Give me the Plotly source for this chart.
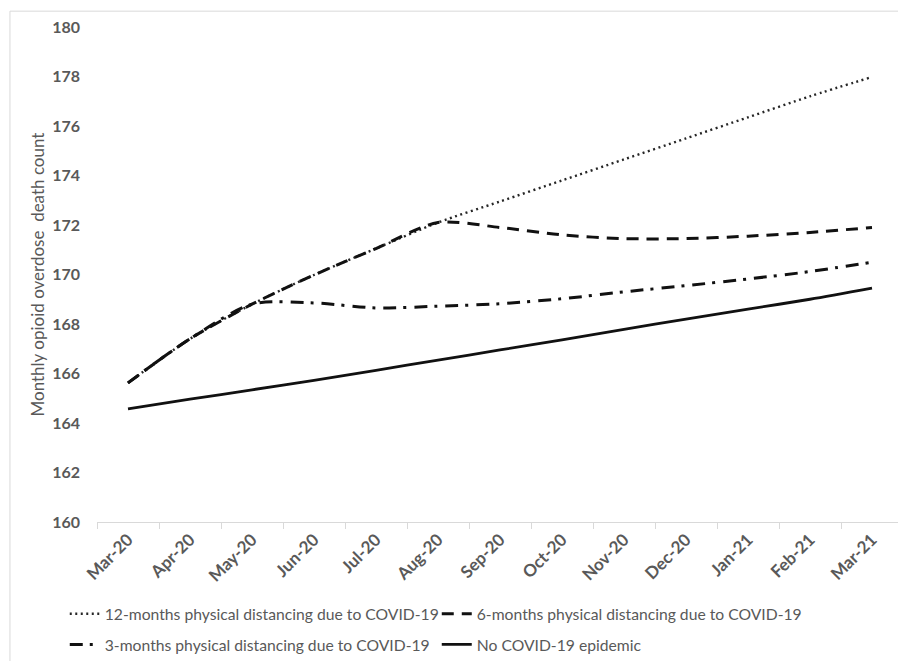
import plotly.graph_objects as go

months = ["Mar-20", "Apr-20", "May-20", "Jun-20", "Jul-20", "Aug-20", "Sep-20",
          "Oct-20", "Nov-20", "Dec-20", "Jan-21", "Feb-21", "Mar-21"]

dist_12m = [165.62, 167.40, 168.80, 169.98, 171.05, 172.10, 172.95,
            173.80, 174.65, 175.50, 176.35, 177.20, 177.98]
dist_6m = [165.62, 167.40, 168.80, 169.98, 171.05, 172.10, 171.90,
           171.60, 171.45, 171.45, 171.55, 171.70, 171.90]
dist_3m = [165.62, 167.40, 168.80, 168.85, 168.65, 168.72, 168.82,
           169.02, 169.30, 169.55, 169.82, 170.12, 170.50]
no_covid = [164.57, 164.96, 165.34, 165.72, 166.13, 166.54, 166.95,
            167.36, 167.78, 168.20, 168.60, 169.00, 169.45]

names = ["12-months physical distancing due to COVID-19",
         "6-months physical distancing due to COVID-19",
         "3-months physical distancing due to COVID-19",
         "No COVID-19 epidemic"]

y_ticks = [160, 162, 164, 166, 168, 170, 172, 174, 176, 178, 180]

fig = go.Figure()
styles = [
    (dist_12m, dict(color="#262626", width=2.4, dash="2px,3.5px"), "legend"),
    (dist_6m, dict(color="#111111", width=3, dash="12px,8px"), "legend"),
    (dist_3m, dict(color="#111111", width=3, dash="13px,7px,3px,8px"), "legend2"),
    (no_covid, dict(color="#111111", width=2.8, dash="solid"), "legend2"),
]
for (vals, ln, lg), nm in zip(styles, names):
    fig.add_trace(go.Scatter(x=months, y=vals, mode="lines", name=nm, legend=lg,
                             line=dict(shape="spline", smoothing=0.8, **ln)))

grey = "#595959"
leg_common = dict(orientation="h", x=-0.04, xanchor="left", yanchor="middle",
                  entrywidth=327, entrywidthmode="pixels",
                  font=dict(size=15.7, color=grey, family="Lato"), itemwidth=30,
                  bgcolor="rgba(0,0,0,0)")
fig.update_layout(
    width=906, height=661,
    margin=dict(l=89, r=11, t=19, b=147, autoexpand=False),
    paper_bgcolor="white", plot_bgcolor="white",
    font=dict(family="Lato, 'Open Sans', sans-serif", color=grey),
    showlegend=True,
    legend=dict(y=-0.186, **leg_common),
    legend2=dict(y=-0.248, **leg_common),
    xaxis=dict(type="category", range=[-0.5, 12.5], tickson="boundaries",
               ticks="outside", ticklen=6, tickcolor="#d9d9d9", automargin=False,
               showline=True, linecolor="#d9d9d9", linewidth=1,
               showgrid=False, tickangle=-45,
               tickfont=dict(size=17, color=grey, family="Lato", weight="bold")),
    yaxis=dict(range=[160, 180], tickvals=y_ticks, showgrid=False, zeroline=False,
               showline=False, ticks="", ticklabelstandoff=16, automargin=False,
               tickfont=dict(size=16, color=grey, family="Lato", weight="bold")),
    annotations=[dict(text="Monthly opioid overdose  death count", textangle=-90,
                      xref="paper", yref="paper", x=(37 - 97) / 806, y=0.5,
                      xanchor="center", yanchor="middle", showarrow=False,
                      font=dict(size=17, color=grey, family="Lato"))],
    shapes=[dict(type="rect", xref="paper", yref="paper",
                 x0=-0.108, x1=1.01, y0=-0.30, y1=1.032,
                 line=dict(color="#d9d9d9", width=1), layer="below")],
)

fig.write_html("out.html")
